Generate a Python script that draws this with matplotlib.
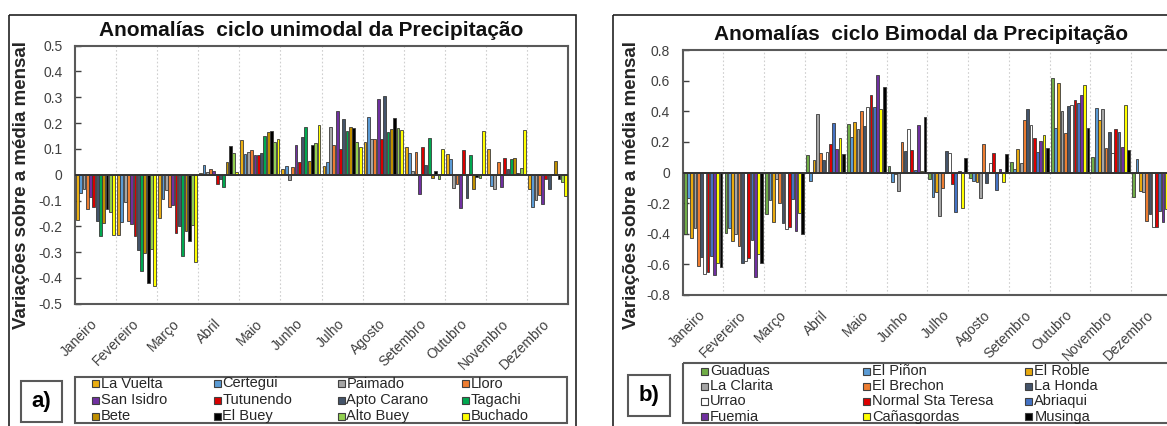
import numpy as np
import matplotlib
matplotlib.use('Agg')
import matplotlib.pyplot as plt
from matplotlib.patches import Rectangle

plt.rcParams['font.family'] = ['Liberation Sans', 'DejaVu Sans']

# dados
meses = ['Janeiro', 'Fevereiro', 'Março', 'Abril', 'Maio', 'Junho', 'Julho',
         'Agosto', 'Setembro', 'Outubro', 'Novembro', 'Dezembro']

# a) ciclo unimodal
la_vuelta = [-0.175, -0.233, -0.166, 0.005, 0.134, 0.022, 0.035, 0.128, 0.108, 0.079, 0.099, -0.057]
certegui = [-0.07, -0.185, -0.094, 0.036, 0.079, 0.034, 0.05, 0.225, 0.083, 0.061, -0.043, -0.124]
paimado = [-0.055, -0.105, -0.06, 0.012, 0.089, -0.02, 0.183, 0.137, 0.015, -0.05, -0.054, -0.098]
lloro = [-0.134, -0.18, -0.124, 0.022, 0.095, 0.031, 0.115, 0.138, 0.089, -0.037, 0.05, -0.08]
san_isidro = [-0.085, -0.19, -0.117, 0.013, 0.076, 0.115, 0.245, 0.292, -0.075, -0.13, -0.046, -0.114]
tutunendo = [-0.126, -0.238, -0.225, -0.036, 0.076, 0.05, 0.099, 0.137, 0.106, 0.095, 0.065, -0.018]
apto_carano = [-0.18, -0.29, -0.2, -0.015, 0.085, 0.147, 0.217, 0.305, 0.036, -0.089, 0.021, -0.057]
tagachi = [-0.236, -0.372, -0.315, -0.046, 0.151, 0.183, 0.169, 0.164, 0.143, 0.076, 0.061, 0.003]
bete = [-0.188, -0.305, -0.217, 0.05, 0.164, 0.054, 0.183, 0.179, -0.012, -0.054, 0.066, 0.054]
el_buey = [-0.134, -0.42, -0.258, 0.111, 0.169, 0.114, 0.182, 0.218, 0.015, -0.01, 0.006, -0.015]
alto_buey = [-0.145, -0.288, -0.196, 0.083, 0.128, 0.124, 0.125, 0.182, -0.018, -0.014, 0.025, -0.03]
buchado = [-0.233, -0.43, -0.34, 0.01, 0.139, 0.191, 0.106, 0.175, 0.099, 0.17, 0.175, -0.083]

# b) ciclo bimodal
guaduas = [-0.40, -0.396, -0.272, 0.115, 0.315, 0.043, -0.043, -0.033, 0.07, 0.615, 0.098, -0.159]
el_pinon = [-0.167, -0.365, -0.178, -0.054, 0.233, -0.065, -0.157, -0.054, 0.022, 0.293, 0.42, 0.091]
el_roble = [-0.43, -0.448, -0.322, 0.08, 0.333, -0.007, -0.13, -0.065, 0.152, 0.583, 0.341, -0.12]
la_clarita = [-0.365, -0.40, -0.043, 0.385, 0.283, -0.124, -0.283, -0.167, 0.059, 0.402, 0.417, -0.126]
el_brechon = [-0.613, -0.478, -0.2, 0.13, 0.402, 0.196, -0.098, 0.185, 0.343, 0.257, 0.157, -0.315]
la_honda = [-0.554, -0.59, -0.333, 0.083, 0.304, 0.141, 0.139, -0.07, 0.413, 0.435, 0.265, -0.272]
urrao = [-0.663, -0.576, -0.37, 0.135, 0.43, 0.287, 0.126, 0.065, 0.309, 0.441, 0.126, -0.354]
normal_sta_teresa = [-0.652, -0.56, -0.359, 0.185, 0.509, 0.148, -0.072, 0.13, 0.226, 0.474, 0.283, -0.354]
abriaqui = [-0.548, -0.441, -0.174, 0.326, 0.428, 0.015, -0.26, -0.115, 0.135, 0.457, 0.267, -0.254]
fuemia = [-0.67, -0.68, -0.38, 0.152, 0.635, 0.311, 0.009, 0.022, 0.207, 0.507, 0.167, -0.322]
canasgordas = [-0.593, -0.533, -0.265, 0.224, 0.413, 0.007, -0.235, -0.065, 0.243, 0.57, 0.439, -0.239]
musinga = [-0.62, -0.59, -0.40, 0.12, 0.557, 0.363, 0.093, 0.12, 0.157, 0.289, 0.148, -0.30]

serie_a = [('La Vuelta', la_vuelta, '#EBAE12'), ('Certegui', certegui, '#5B9BD5'),
           ('Paimado', paimado, '#A5A5A5'), ('Lloro', lloro, '#ED7D31'),
           ('San Isidro', san_isidro, '#7030A0'), ('Tutunendo', tutunendo, '#D80000'),
           ('Apto Carano', apto_carano, '#44546A'), ('Tagachi', tagachi, '#00A850'),
           ('Bete', bete, '#BF8F00'), ('El Buey', el_buey, '#000000'),
           ('Alto Buey', alto_buey, '#92D050'), ('Buchado', buchado, '#FFFF00')]

serie_b = [('Guaduas', guaduas, '#70AD47'), ('El Piñon', el_pinon, '#5B9BD5'),
           ('El Roble', el_roble, '#E8A90E'), ('La Clarita', la_clarita, '#A5A5A5'),
           ('El Brechon', el_brechon, '#ED7D31'), ('La Honda', la_honda, '#44546A'),
           ('Urrao', urrao, '#FFFFFF'), ('Normal Sta Teresa', normal_sta_teresa, '#DD0000'),
           ('Abriaqui', abriaqui, '#4472C4'), ('Fuemia', fuemia, '#7030A0'),
           ('Cañasgordas', canasgordas, '#FFFF00'), ('Musinga', musinga, '#000000')]

W, H = 1167, 426
fig = plt.figure(figsize=(W / 100, H / 100), dpi=100)

# camada de fundo em pixels (molduras, legendas, rótulos)
bg = fig.add_axes([0, 0, 1, 1])
bg.set_xlim(0, W)
bg.set_ylim(H, 0)
bg.axis('off')


def px_axes(x0, y0, x1, y1):
    return fig.add_axes([x0 / W, 1 - y1 / H, (x1 - x0) / W, (y1 - y0) / H])


def fmt(v, p):
    v = round(v, 2)
    return '0' if abs(v) < 1e-9 else '%g' % v


def desenha_painel(ax, series, ylim, ystep):
    n = len(series)
    grp = 0.96
    step = grp / n
    x = np.arange(len(meses))
    for i, (nome, vals, cor) in enumerate(series):
        ax.bar(x - grp / 2 + (i + 0.5) * step, vals, width=step * 0.86,
               color=cor, edgecolor='#3a3a3a', linewidth=0.6, zorder=3)
    ax.set_xlim(-0.5, len(meses) - 0.5)
    ax.set_ylim(*ylim)
    ax.set_yticks(np.round(np.arange(ylim[0], ylim[1] + ystep / 2, ystep), 2))
    ax.yaxis.set_major_formatter(plt.FuncFormatter(fmt))
    for b in np.arange(0.5, len(meses) - 0.5, 1):
        ax.axvline(b, color='#cfcfcf', lw=0.8, ls=(0, (1.5, 2)), zorder=1)
    ax.axhline(0, color='#333333', lw=1.4, zorder=4)
    ax.set_xticks(x)
    ax.set_xticklabels(meses, rotation=45, ha='right', va='center',
                       rotation_mode='anchor', fontsize=10, color='#404040')
    ax.tick_params(axis='x', length=0, pad=13)
    ax.tick_params(axis='y', direction='in', length=4, width=1, color='#404040',
                   labelsize=10, labelcolor='#404040', pad=9)
    for s in ax.spines.values():
        s.set_color('#595959')
        s.set_linewidth(1.5)


def legenda(series, x_cols, y_rows, ncol):
    for i, (nome, vals, cor) in enumerate(series):
        c, r = i % ncol, i // ncol
        xm, ym = x_cols[c], y_rows[r]
        bg.add_patch(Rectangle((xm, ym - 3.5), 7, 7, facecolor=cor,
                               edgecolor='#404040', lw=0.8))
        bg.text(xm + 9, ym, nome, fontsize=10.5, color='#262626', va='center', ha='left')


ylabel = 'Variações sobre a média mensal'

# painel a
bg.add_patch(Rectangle((9.3, 15.3), 576 - 9.3, 430, fill=False, edgecolor='#222222', lw=1.2))
ax1 = px_axes(75, 45.7, 568, 303.7)
desenha_painel(ax1, serie_a, (-0.5, 0.5), 0.1)
bg.text(311.5, 31, 'Anomalías  ciclo unimodal da Precipitação', fontsize=15,
        fontweight='bold', ha='center', va='center', color='#111111')
bg.text(21.5, 185, ylabel, rotation=90, fontsize=13.5, fontweight='bold',
        color='#262626', ha='center', va='center')
bg.add_patch(Rectangle((74.5, 377), 492, 46, fill=False, edgecolor='#595959', lw=1.5))
legenda(serie_a, [92, 213.5, 337.5, 462], [383.5, 400, 416], 4)
bg.add_patch(Rectangle((20.7, 381), 41.6, 40.7, fill=False, edgecolor='#595959', lw=1.5))
bg.text(41.5, 401.5, 'a)', fontsize=16, fontweight='bold', ha='center', va='center')

# painel b
bg.add_patch(Rectangle((613.3, 15.3), 600, 430, fill=False, edgecolor='#222222', lw=1.2))
ax2 = px_axes(682.7, 50, 1172, 295)
desenha_painel(ax2, serie_b, (-0.8, 0.8), 0.2)
bg.text(921, 35, 'Anomalías  ciclo Bimodal da Precipitação', fontsize=15,
        fontweight='bold', ha='center', va='center', color='#111111')
bg.text(631.5, 185, ylabel, rotation=90, fontsize=13.5, fontweight='bold',
        color='#262626', ha='center', va='center')
bg.add_patch(Rectangle((682.7, 363.3), 500, 59.4, fill=False, edgecolor='#595959', lw=1.5))
legenda(serie_b, [701, 863.3, 1025.3], [371, 386, 401.3, 416.7], 3)
bg.add_patch(Rectangle((627.7, 375), 42.3, 41, fill=False, edgecolor='#595959', lw=1.5))
bg.text(649, 395.5, 'b)', fontsize=16, fontweight='bold', ha='center', va='center')

fig.savefig('out.png', dpi=100)
